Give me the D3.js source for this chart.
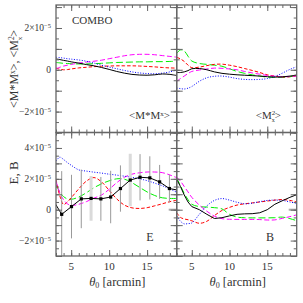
<!DOCTYPE html>
<html><head><meta charset="utf-8">
<script src="https://cdn.jsdelivr.net/npm/d3@7"></script>
<style>
body{margin:0;background:#fff}
svg{display:block}
text{font-family:"Liberation Serif","Times New Roman",serif;fill:#333}
</style>
</head><body>
<script>
// ---- data (values in units of 1e-5) ----
const xGrid = [3, 3.5, 4, 4.5, 5, 6, 7, 8, 9, 10, 11, 12, 13, 14, 15, 16, 17, 18, 19];

// top-left: <M*M_x>
const mmBlack   = [0.52,0.49,0.45,0.42,0.38,0.32,0.25,0.19,0.11,0.02,-0.08,-0.16,-0.22,-0.25,-0.26,-0.24,-0.20,-0.22,-0.28];
const mmBlue    = [0.60,0.58,0.56,0.53,0.51,0.47,0.41,0.32,0.22,0.13,0.05,-0.03,-0.10,-0.15,-0.18,-0.19,-0.16,-0.10,0.00];
const mmGreen   = [0.35,0.33,0.31,0.30,0.29,0.28,0.28,0.29,0.31,0.33,0.35,0.36,0.37,0.38,0.38,0.39,0.39,0.40,0.41];
const mmRed     = [0.08,0.03,0.00,0.01,0.04,0.09,0.12,0.15,0.17,0.18,0.19,0.19,0.19,0.18,0.16,0.14,0.11,0.09,0.08];
const mmMagenta = [0.05,0.12,0.18,0.22,0.26,0.32,0.37,0.41,0.46,0.53,0.60,0.67,0.72,0.74,0.74,0.72,0.68,0.64,0.60];

// top-right: <M^2_x>
const m2Black   = [-0.13,-0.13,-0.10,-0.04,0.05,0.06,0.00,-0.10,-0.17,-0.21,-0.24,-0.26,-0.28,-0.30,-0.33,-0.35,-0.34,-0.30,-0.24];
const m2Blue    = [-0.87,-0.90,-0.92,-0.88,-0.80,-0.55,-0.38,-0.31,-0.30,-0.35,-0.42,-0.46,-0.47,-0.46,-0.42,-0.32,-0.16,0.02,0.16];
const m2Green   = [0.79,0.95,0.90,0.65,0.42,0.30,0.26,0.22,0.17,0.05,-0.08,-0.17,-0.24,-0.30,-0.35,-0.36,-0.36,-0.33,-0.28];
const m2Red     = [0.60,0.52,0.40,0.22,0.10,0.13,0.20,0.26,0.27,0.22,0.15,0.06,-0.03,-0.13,-0.24,-0.30,-0.34,-0.33,-0.28];
const m2Magenta = [-0.55,-0.42,-0.30,-0.18,-0.08,-0.01,0.04,0.08,0.07,0.04,0.00,-0.08,-0.15,-0.21,-0.27,-0.31,-0.34,-0.32,-0.30];

// bottom-left: E
const eBlue    = [3.14,3.40,3.25,3.05,2.88,2.58,2.50,2.43,2.37,2.30,2.24,2.17,2.10,2.00,1.88,1.72,1.55,1.35,1.10];
const eGreen   = [1.59,1.15,0.85,0.70,0.67,0.82,1.10,1.42,1.68,1.87,2.00,1.98,1.75,1.45,1.15,0.92,0.77,0.73,0.73];
const eRed     = [1.96,0.90,0.34,0.50,0.77,1.35,1.85,2.08,1.80,1.25,0.70,0.30,0.12,0.08,0.13,0.25,0.38,0.52,0.62];
const eMagenta = [1.85,1.10,0.65,0.38,0.28,0.35,0.52,0.75,0.95,1.32,1.75,2.10,2.30,2.39,2.44,2.44,2.40,2.25,2.05];
// measured E (black points with error bars)
const eX   = [2.46,3.75,5.04,6.33,7.62,8.91,10.2,11.49,12.78,14.07,15.36,16.65,17.94,19.23];
const eVal = [0.75,-0.30,0.20,0.70,0.73,0.70,0.82,1.37,1.92,2.10,2.06,1.80,1.37,1.25];
const eErr = [2.8,2.8,2.06,1.9,1.45,1.42,1.7,1.5,1.7,1.5,1.4,1.1,0.9,0.9];
const eWide = [false,false,false,false,true,false,false,false,true,false,false,false,false,false];

// bottom-right: B
const bBlack   = [1.96,1.50,0.95,0.50,0.20,0.00,-0.30,-0.57,-0.52,-0.40,-0.30,-0.27,-0.26,-0.20,0.00,0.35,0.58,0.80,0.99];
const bBlue    = [-0.41,-0.75,-0.92,-0.90,-0.86,-0.30,0.25,0.60,0.72,0.62,0.48,0.38,0.42,0.52,0.60,0.62,0.60,0.50,0.40];
const bGreen   = [2.06,1.55,1.05,0.65,0.35,0.20,0.17,0.13,0.05,-0.30,-0.48,-0.52,-0.53,-0.53,-0.53,-0.52,-0.48,-0.58,-0.73];
const bRed     = [-0.19,-0.50,-0.60,-0.65,-0.72,-0.88,-0.75,-0.38,-0.05,0.15,0.30,0.38,0.44,0.50,0.56,0.62,0.66,0.60,0.50];
const bMagenta = [2.10,1.85,1.50,1.15,0.80,0.30,-0.10,-0.42,-0.58,-0.62,-0.63,-0.63,-0.63,-0.64,-0.67,-0.66,-0.56,-0.45,-0.32];

const xTickLabels = [5, 10, 15];
const yTopTickLabels = [-2, 0, 2];
const yBotTickLabels = [-2, 0, 2, 4];

// ---- layout ----
const W = 303, H = 303;
const L = 56, MX = 176.7, R = 296.7, T = 5, MY = 132.5, B = 256;
const xDom = [3, 18.9];

const svg = d3.select("body").append("svg").attr("width", W).attr("height", H);

const xL = d3.scaleLinear().domain(xDom).range([L, MX]);
const xR = d3.scaleLinear().domain(xDom).range([MX, R]);
const yT = d3.scaleLinear().domain([-3, 3.1]).range([MY, T]);
const yB = d3.scaleLinear().domain([-3, 5]).range([B, MY]);

const styles = {
  black:   {c:"#000", d:null, w:1},
  blue:    {c:"#0000ff", d:"1,1.6", w:1},
  green:   {c:"#00ee00", d:"7,3", w:1},
  red:     {c:"#ff0000", d:"3.5,2", w:1},
  magenta: {c:"#ff00ff", d:"5,2.5", w:1}
};

const frameCol = "#666";
let clipId = 0;

function panel(x, y, series, blackLinear) {
  const id = "clip" + (clipId++);
  const [x0, x1] = x.range(); const [y0, y1] = y.range();
  svg.append("clipPath").attr("id", id).append("rect")
    .attr("x", x0).attr("y", y1).attr("width", x1 - x0).attr("height", y0 - y1);
  const g = svg.append("g").attr("clip-path", `url(#${id})`);
  series.forEach(s => {
    const st = styles[s.k];
    const line = d3.line().x((d, i) => x(s.xs[i])).y(d => y(d))
      .curve(s.k === "black" && blackLinear ? d3.curveLinear : d3.curveCatmullRom);
    g.append("path").datum(s.v).attr("d", line).attr("fill", "none")
      .attr("stroke", st.c).attr("stroke-width", st.w)
      .attr("stroke-dasharray", st.d);
  });
  return g;
}

function frame(x, y, yMinor, yMajor) {
  const [x0, x1] = x.range(); const [y0, y1] = y.range();
  const g = svg.append("g");
  const xMinor = d3.range(3, 19, 1);
  const xMajor = [5, 10, 15];
  const mk = (axis, tr) => {
    const a = g.append("g").attr("transform", tr).call(axis);
    a.select(".domain").remove();
    a.selectAll("line").attr("stroke", frameCol).attr("stroke-width", 1);
  };
  mk(d3.axisBottom(x).tickValues(xMinor).tickSize(-3).tickFormat(""), `translate(0,${y0})`);
  mk(d3.axisBottom(x).tickValues(xMajor).tickSize(-6).tickFormat(""), `translate(0,${y0})`);
  mk(d3.axisTop(x).tickValues(xMinor).tickSize(-3).tickFormat(""), `translate(0,${y1})`);
  mk(d3.axisTop(x).tickValues(xMajor).tickSize(-6).tickFormat(""), `translate(0,${y1})`);
  mk(d3.axisLeft(y).tickValues(yMinor).tickSize(-3).tickFormat(""), `translate(${x0},0)`);
  mk(d3.axisLeft(y).tickValues(yMajor).tickSize(-6).tickFormat(""), `translate(${x0},0)`);
  mk(d3.axisRight(y).tickValues(yMinor).tickSize(-3).tickFormat(""), `translate(${x1},0)`);
  mk(d3.axisRight(y).tickValues(yMajor).tickSize(-6).tickFormat(""), `translate(${x1},0)`);
  g.append("rect").attr("x", x0).attr("y", y1).attr("width", x1 - x0).attr("height", y0 - y1)
    .attr("fill", "none").attr("stroke", frameCol).attr("stroke-width", 1.3);
}

const S = (k, v, xs) => ({k, v, xs: xs || xGrid});

// top-left
panel(xL, yT, [S("green", mmGreen), S("red", mmRed), S("magenta", mmMagenta), S("blue", mmBlue), S("black", mmBlack)], false);
// top-right
panel(xR, yT, [S("green", m2Green), S("red", m2Red), S("magenta", m2Magenta), S("blue", m2Blue), S("black", m2Black)], false);
// bottom-left E
const gE = panel(xL, yB, [S("green", eGreen), S("red", eRed), S("magenta", eMagenta), S("blue", eBlue)], true);
// error bars
gE.selectAll("line.err").data(eX).join("line").attr("class", "err")
  .attr("x1", d => xL(d)).attr("x2", d => xL(d))
  .attr("y1", (d, i) => yB(eVal[i] + eErr[i])).attr("y2", (d, i) => yB(eVal[i] - eErr[i]))
  .attr("stroke", (d, i) => eWide[i] ? "#dadada" : "#999")
  .attr("stroke-width", (d, i) => eWide[i] ? 3 : 1);
gE.append("path").datum(eVal)
  .attr("d", d3.line().x((d, i) => xL(eX[i])).y(d => yB(d)))
  .attr("fill", "none").attr("stroke", "#000").attr("stroke-width", 1);
gE.selectAll("rect.pt").data(eX).join("rect").attr("class", "pt")
  .attr("x", d => xL(d) - 1.6).attr("y", (d, i) => yB(eVal[i]) - 1.6)
  .attr("width", 3.2).attr("height", 3.2).attr("fill", "#000");
// bottom-right B
panel(xR, yB, [S("green", bGreen), S("red", bRed), S("magenta", bMagenta), S("blue", bBlue), S("black", bBlack)], true);

// grey zero marks on the right inner edge of bottom panels
[xL, xR].forEach(x => {
  svg.append("line").attr("x1", x.range()[1] - 8).attr("x2", x.range()[1])
    .attr("y1", yB(0)).attr("y2", yB(0)).attr("stroke", "#aaa").attr("stroke-width", 2);
});

const yMinT = d3.range(-3, 3.01, 0.5), yMajT = d3.range(-3, 3.01, 1);
const yMinB = d3.range(-3, 5.01, 0.5), yMajB = d3.range(-3, 5.01, 1);
frame(xL, yT, yMinT, yMajT);
frame(xR, yT, yMinT, yMajT);
frame(xL, yB, yMinB, yMajB);
frame(xR, yB, yMinB, yMajB);

// y tick labels
function yLabels(y, vals) {
  const t = svg.append("g").selectAll("text").data(vals).join("text")
    .attr("x", 51).attr("y", d => y(d)).attr("dy", "0.35em")
    .attr("text-anchor", "end").attr("font-size", 9.5);
  t.each(function(d) {
    const s = d3.select(this);
    if (d === 0) { s.text("0"); return; }
    s.append("tspan").text((d < 0 ? "\u2212" : "") + Math.abs(d) + "\u00d710");
    s.append("tspan").attr("dy", "-0.45em").attr("font-size", 6.5).text("\u22125");
  });
}
yLabels(yT, yTopTickLabels);
yLabels(yB, yBotTickLabels);

// x tick labels
[xL, xR].forEach(x => {
  svg.append("g").selectAll("text").data(xTickLabels).join("text")
    .attr("x", d => x(d)).attr("y", 270).attr("text-anchor", "middle")
    .attr("font-size", 11).text(d => d);
  const t = svg.append("text").attr("x", (x.range()[0] + x.range()[1]) / 2 + 1).attr("y", 285.5)
    .attr("text-anchor", "middle").attr("font-size", 12.5);
  t.append("tspan").attr("font-style", "italic").text("\u03b8");
  t.append("tspan").attr("font-size", 8).attr("dy", 2.5).text("0");
  t.append("tspan").attr("dy", -2.5).text(" [arcmin]");
});

// panel labels
svg.append("text").attr("x", 72).attr("y", 24).attr("font-size", 11).text("COMBO");
function mLabel(xEnd, yb, two) {
  const t = svg.append("text").attr("x", xEnd).attr("y", yb).attr("text-anchor", "end").attr("font-size", 11);
  t.append("tspan").text(two ? "<M" : "<M*M");
  if (two) {
    t.append("tspan").attr("font-size", 7).attr("dy", -4).text("2");
    t.append("tspan").attr("font-size", 6).attr("dx", -3.5).attr("dy", 7).text("x");
    t.append("tspan").attr("dy", -3).text(">");
  } else {
    t.append("tspan").attr("font-size", 7).attr("dy", -3).text("x");
    t.append("tspan").attr("dy", 3).text(">");
  }
}
mLabel(170, 119, false);
mLabel(281, 119, true);
svg.append("text").attr("x", 150).attr("y", 241).attr("text-anchor", "middle").attr("font-size", 12).text("E");
svg.append("text").attr("x", 270).attr("y", 241).attr("text-anchor", "middle").attr("font-size", 12).text("B");

// y axis titles
const yt = svg.append("text").attr("transform", "translate(18,69) rotate(-90)")
  .attr("text-anchor", "middle").attr("font-size", 12);
yt.append("tspan").text("<M*M");
yt.append("tspan").attr("font-size", 7.5).attr("dy", -3.5).text("x");
yt.append("tspan").attr("dy", 3.5).text(">, <M");
yt.append("tspan").attr("font-size", 7.5).attr("dy", -4.5).text("2");
yt.append("tspan").attr("font-size", 7).attr("dx", -4).attr("dy", 8).text("x");
yt.append("tspan").attr("dy", -3.5).text(">");
svg.append("text").attr("transform", "translate(18,173) rotate(-90)")
  .attr("text-anchor", "middle").attr("font-size", 13).text("E, B");
</script>
</body></html>
